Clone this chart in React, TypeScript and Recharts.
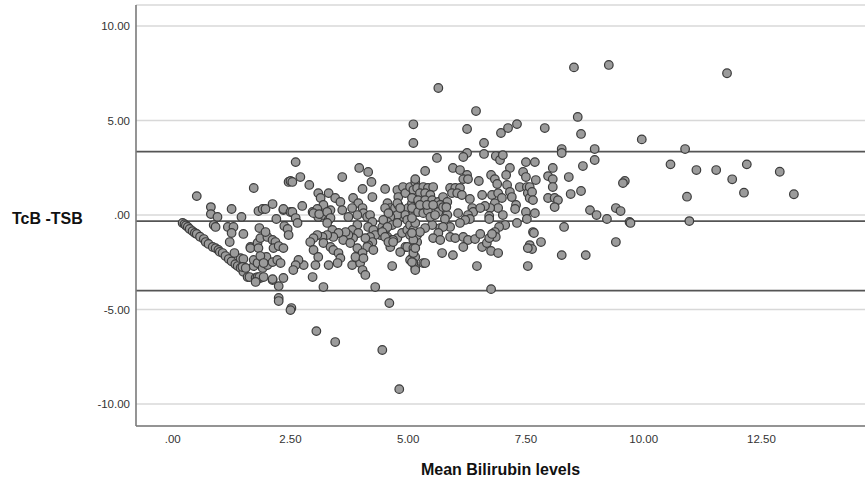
import React from 'react';
import { ScatterChart, Scatter, XAxis, YAxis, CartesianGrid, ReferenceLine } from 'recharts';

// [mean bilirubin, TcB - TSB]
const leftDiagonal: [number, number][] = [
  [0.21,-0.42],[0.25,-0.48],[0.28,-0.55],[0.32,-0.63],[0.36,-0.74],[0.42,-0.85],[0.47,-0.95],[0.51,-1.0],[0.58,-1.15],
  [0.66,-1.27],[0.70,-1.43],[0.76,-1.53],[0.85,-1.69],[0.91,-1.75],[0.97,-1.85],[1.0,-1.95],[1.06,-2.01],[1.12,-2.17],
  [1.19,-2.33],[1.25,-2.45],[1.33,-2.6],[1.38,-2.7],[1.44,-2.28],[1.50,-2.33],[1.44,-2.8],[1.50,-3.0],[1.59,-3.28],
  [1.63,-3.28],[1.76,-3.33],[1.82,-3.33],[1.48,-2.75],[1.55,-2.8],[1.72,-2.7],[1.86,-3.33],[1.80,-3.28],[1.84,-3.28],[1.93,-3.28],
];

const lowerLeftCluster: [number, number][] = [
  [0.51,1.0],[1.72,1.43],[0.81,0.42],[0.81,0.05],[0.95,-0.1],[0.87,-0.53],[0.91,-0.63],[1.25,0.32],[1.46,-0.1],
  [1.82,0.21],[1.91,0.32],[1.97,0.32],[2.12,0.58],[2.35,0.26],[2.46,1.75],[1.17,-0.63],[1.29,-0.63],[1.25,-0.95],
  [1.50,-1.0],[1.21,-1.43],[1.31,-2.01],[1.65,-1.69],[1.80,-1.48],[1.86,-1.22],[2.01,-1.16],[1.84,-0.69],[1.97,-0.9],
  [1.72,-2.38],[1.80,-2.54],[1.91,-2.28],[1.99,-2.22],[1.91,-2.8],[2.01,-2.65],[2.12,-2.49],[2.22,-2.38],[2.29,-2.54],
  [2.12,-1.32],[2.18,-1.43],[2.14,-1.75],[2.25,-1.64],[2.35,-1.75],[2.20,-0.21],[2.37,-0.58],[2.44,-0.74],[2.46,-1.06],
  [2.12,-3.44],[2.25,-3.76],[2.25,-4.39],[2.35,0.32],[2.5,0.16],[1.65,-1.75],[1.82,-1.75],[1.86,-2.17],[1.93,-2.54],
  [2.12,-3.39],[2.35,-3.33],[2.52,-4.92],[2.25,-4.55],[2.50,-5.03],[1.76,-3.54],[2.61,2.80],[2.5,1.8],
];

const middleCluster: [number, number][] = [
  [2.71,2.01],[2.54,1.75],[2.90,1.59],[3.60,2.01],[3.96,2.49],[4.15,2.28],[4.22,1.75],[4.03,1.38],[4.24,0.95],
  [4.51,1.38],[4.77,1.32],[4.89,1.48],[4.79,0.95],[4.94,1.16],[3.09,1.16],[3.31,1.16],[3.14,0.9],[3.45,0.9],
  [3.56,0.69],[3.35,0.26],[3.20,0.53],[3.60,0.26],[2.75,0.48],[2.97,0.16],[3.07,0.32],[3.09,-0.1],[3.20,0],
  [3.31,-0.26],[2.54,0.16],[2.61,-0.16],[2.65,-0.42],[3.83,0.9],[3.94,0.63],[4.03,0.37],[4.05,0.1],[4.13,-0.1],
  [3.81,0.37],[3.92,0],[3.73,-0.1],[4.19,0],[4.24,-0.37],[4.15,-0.63],[4.56,0.63],[4.62,0.37],[4.72,0.37],
  [4.79,0.53],[4.89,0.26],[5.0,0.37],[5.08,0.63],[4.89,-0.1],[5.0,-0.1],[4.77,0],[4.62,-0.1],[4.56,-0.37],
  [4.66,-0.53],[4.77,-0.42],[4.45,-0.63],[4.51,-0.79],[4.41,-1.06],[4.56,-1.16],[4.66,-1.32],[4.77,-1.22],[4.87,-0.95],
  [4.98,-0.79],[4.26,-0.79],[4.30,-1.06],[4.19,-1.16],[4.24,-1.43],[4.15,-1.59],[4.09,-1.22],[3.92,-0.53],[3.81,-0.79],
  [3.94,-0.95],[3.83,-1.22],[3.73,-1.06],[3.67,-0.9],[3.62,-1.32],[3.77,-1.48],[3.39,-0.79],[3.52,-0.95],[3.41,-1.16],
  [3.28,-1.06],[3.18,-1.16],[3.07,-1.06],[2.99,-1.22],[2.92,-1.43],[3.20,-1.48],[3.35,-1.69],[3.41,-1.85],[3.52,-2.01],
  [3.56,-2.28],[3.50,-2.54],[3.31,-2.65],[2.99,-1.85],[3.09,-2.22],[3.03,-2.65],[2.78,-2.65],[2.67,-2.38],[2.61,-2.65],
  [2.56,-2.91],[3.81,-2.65],[3.98,-2.54],[4.03,-2.91],[4.09,-3.17],[4.13,-1.69],[4.26,-1.85],[2.97,-3.28],[3.20,-3.81],
  [4.30,-3.81],[4.66,-2.7],[4.94,-1.69],[4.83,-1.96],[4.68,-1.32],[4.62,-1.69],[3.92,-1.75],[4.03,-2.01],[3.88,-2.22],
  [4.05,-2.28],[2.99,0.1],[3.11,0.05],[3.28,0.16],[3.35,-0.16],[3.28,-0.42],[4.51,0.37],[4.58,0.1],[4.47,-0.26],
  [4.56,-0.63],[4.45,-0.9],[4.51,-1.16],[4.58,-1.43],[4.68,-1.43],[4.77,0.63],[4.83,0.37],[4.94,0],[4.98,-0.26],
  [4.98,-1.69],
];

const lowOutliers: [number, number][] = [
  [4.6,-4.66],[3.05,-6.14],[3.45,-6.72],[4.45,-7.14],[4.81,-9.21],[6.76,-3.92],
];

const upperCluster: [number, number][] = [
  [5.04,1.48],[5.15,1.75],[5.11,1.32],[5.19,0.79],[5.11,0.1],[5.04,-1.06],[5.15,-1.16],[5.19,-1.43],[5.08,-2.28],
  [5.15,-2.8],[5.04,-2.38],[5.04,-0.53],[5.11,-0.79],[5.19,-1.06],[5.11,-1.32],[5.11,-1.75],[5.15,-2.22],[5.11,-2.54],
  [5.15,-2.91],[5.32,-2.54],[5.64,6.72],[6.44,5.50],[5.11,4.80],[5.11,3.81],[6.25,4.55],[6.97,4.34],[7.12,4.6],
  [7.31,4.81],[6.61,3.81],[6.61,3.23],[6.25,3.28],[6.17,3.07],[5.61,3.02],[6.86,3.12],[6.95,2.91],[7.01,3.17],
  [7.16,2.49],[7.50,2.80],[7.69,2.80],[5.36,2.33],[5.95,2.49],[6.10,2.38],[6.25,2.12],[6.17,1.90],[6.27,1.90],
  [5.15,1.90],[6.50,1.80],[6.76,2.12],[6.84,1.90],[6.89,1.64],[7.08,2.12],[7.10,1.59],[7.44,2.28],[7.50,2.01],
  [7.71,1.85],[5.19,1.43],[5.32,1.48],[5.42,1.43],[5.53,1.48],[5.25,1.16],[5.36,1.16],[5.47,1.06],[5.08,0.9],
  [5.21,0.79],[5.36,0.79],[5.51,0.79],[5.64,0.69],[5.89,1.43],[6.0,1.43],[6.10,1.43],[5.93,1.16],[6.04,1.16],
  [6.14,1.06],[5.74,0.95],[5.83,0.69],[5.68,0.53],[6.31,0.85],[6.57,1.06],[6.78,1.06],[6.91,1.16],[6.99,0.9],
  [7.16,1.22],[7.20,0.95],[7.37,1.48],[7.52,1.48],[7.54,1.16],[7.58,0.9],[7.29,0.53],[7.27,0.32],[6.84,0.63],
  [6.91,0.37],[6.74,0.37],[6.63,0.48],[6.36,0.37],[6.38,0.16],[6.27,0],[6.31,-0.21],[6.53,0.37],[6.72,-0.05],
  [6.72,-0.21],[7.01,0],[7.06,-0.53],[6.93,-0.63],[6.84,-0.9],[6.86,-1.16],[7.31,-0.42],[7.5,0.16],[7.52,-0.21],
  [7.69,0.1],[7.65,-0.9],[7.58,-1.59],[7.63,-1.8],[7.54,-2.7],[6.06,0.1],[6.21,-0.26],[5.83,0],[5.78,-0.21],
  [6.10,-0.42],[5.89,-0.63],[5.68,-0.69],[5.51,-0.53],[5.36,-0.69],[5.25,-0.9],[5.74,-0.63],[5.64,-0.95],[5.53,-1.22],
  [5.68,-1.32],[5.89,-1.16],[6.0,-1.22],[6.17,-1.16],[6.27,-1.32],[6.42,-1.27],[6.53,-1.0],[6.57,-1.69],[6.67,-1.48],
  [6.72,-1.22],[6.78,-1.0],[5.72,-2.01],[5.95,-2.12],[6.17,-1.69],[6.76,-1.9],[6.91,-2.01],[6.46,-2.7],[5.36,-2.54],
  [5.08,-2.49],[5.11,-2.01],[5.15,-1.75],[5.08,-0.95],[5.08,0.37],[5.15,-0.42],[5.08,-0.16],[5.21,0.16],[5.32,0.1],
  [5.42,0.21],[5.47,-0.1],[5.64,0.16],[5.57,0],[5.74,0.42],[5.81,0.42],[5.25,0.53],[5.40,0.53],[5.53,0.53],
  [7.58,1.48],[7.63,1.22],[7.65,0.79],[7.67,-0.95],[7.54,-1.75],
];

const rightTail: [number, number][] = [
  [7.90,4.60],[8.52,7.81],[9.26,7.94],[11.77,7.50],[8.60,5.19],[8.67,4.29],[9.96,4.0],[8.26,3.49],[8.26,3.28],
  [8.96,3.49],[8.96,2.91],[8.71,2.59],[8.07,2.49],[7.97,2.06],[8.07,1.90],[8.41,2.01],[8.07,1.48],[9.60,1.80],
  [9.56,1.69],[8.45,1.11],[8.67,1.27],[7.97,0.90],[8.11,0.90],[8.18,0.79],[8.11,0.42],[8.86,0.26],[9.00,0],
  [9.22,-0.21],[9.41,0.37],[9.51,0.21],[9.70,-0.37],[8.31,-0.63],[7.82,-1.43],[8.26,-2.12],[8.77,-2.12],[9.41,-1.43],
  [10.88,3.49],[10.57,2.68],[11.12,2.38],[11.54,2.38],[11.88,1.89],[12.19,2.68],[12.89,2.29],[10.92,0.97],
  [12.13,1.18],[13.19,1.10],[10.97,-0.32],[9.72,-0.42],
];

const xTicks = [0, 2.5, 5, 7.5, 10, 12.5];
const yTicks = [-10, -5, 0, 5, 10];
const meanDifference = -0.32;
const upperLimit = 3.35;
const lowerLimit = -4.0;

const points = [...leftDiagonal, ...lowerLeftCluster, ...middleCluster, ...lowOutliers, ...upperCluster, ...rightTail]
  .map(([x, y]) => ({ x, y }));

const fmt = (v: number) => {
  const s = Math.abs(v).toFixed(2);
  const t = s.startsWith('0') ? s.slice(1) : s;
  return (v < 0 ? '-' : '') + t;
};

const FONT = '"Liberation Sans", Arial, sans-serif';

const Dot = (p: any) => (
  <circle cx={p.cx} cy={p.cy} r={4.3} fill="#9b9b9b" stroke="#3c3c3c" strokeWidth={1.2} />
);

export default function App() {
  return (
    <div style={{ position: 'absolute', left: 0, top: 0, width: 865, height: 482, background: '#fff' }}>
      <ScatterChart width={865} height={482} margin={{ top: 5, right: 0, bottom: 0, left: 0 }}>
        <CartesianGrid vertical={false} stroke="#d8d8d8" strokeWidth={1.6} />
        <XAxis
          type="number"
          dataKey="x"
          domain={[-0.78, 14.7]}
          ticks={xTicks}
          tickFormatter={fmt}
          allowDataOverflow
          height={56}
          tickLine={false}
          tickSize={4}
          tickMargin={5}
          axisLine={{ stroke: '#7a7a7a', strokeWidth: 1.6 }}
          tick={{ fill: '#333', fontSize: 11.5, fontFamily: FONT }}
          label={{ value: 'Mean Bilirubin levels', position: 'insideBottom', offset: 7, fill: '#111', fontSize: 16, fontWeight: 700, fontFamily: FONT }}
        />
        <YAxis
          type="number"
          dataKey="y"
          domain={[-11.16, 11.11]}
          ticks={yTicks}
          tickFormatter={fmt}
          allowDataOverflow
          width={136}
          tickLine={false}
          tickSize={4}
          axisLine={{ stroke: '#7a7a7a', strokeWidth: 1.6 }}
          tick={{ fill: '#333', fontSize: 11.5, fontFamily: FONT }}
          label={{ value: 'TcB -TSB', position: 'insideLeft', offset: 12, dy: 3, fill: '#111', fontSize: 16, fontWeight: 700, fontFamily: FONT }}
        />
        <ReferenceLine y={upperLimit} stroke="#555" strokeWidth={1.7} />
        <ReferenceLine y={meanDifference} stroke="#555" strokeWidth={1.7} />
        <ReferenceLine y={lowerLimit} stroke="#555" strokeWidth={1.7} />
        <Scatter data={points} isAnimationActive={false} shape={Dot} />
      </ScatterChart>
    </div>
  );
}
